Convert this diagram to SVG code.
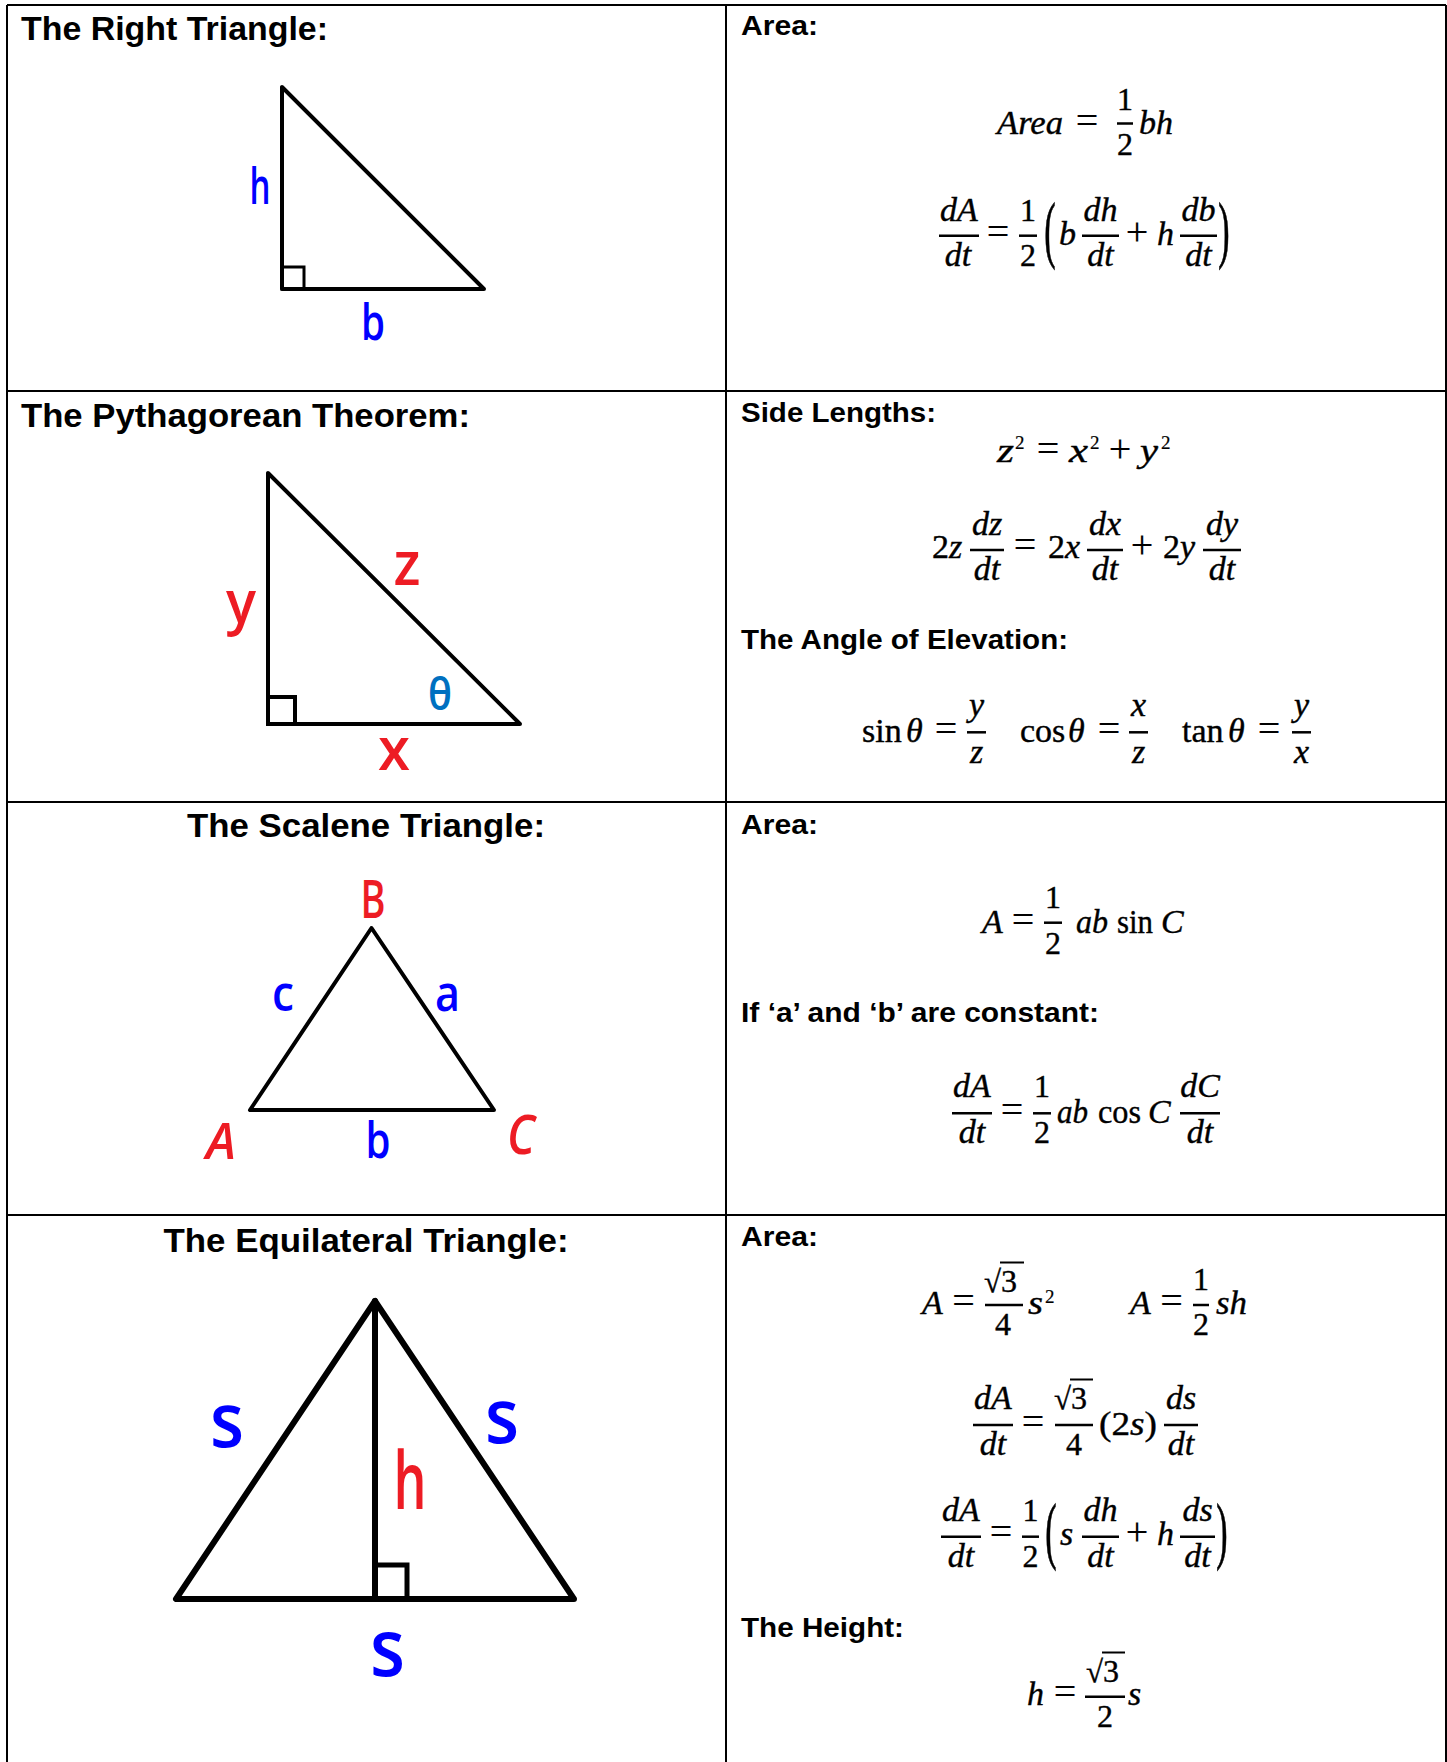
<svg xmlns="http://www.w3.org/2000/svg" width="1447" height="1762" viewBox="0 0 1447 1762">
<style>
.bg{fill:#fff}
.grid{stroke:#000;stroke-width:2;fill:none}
.tri{stroke:#000;stroke-width:4;fill:none;stroke-linejoin:round;stroke-linecap:round}
.tri6{stroke:#000;stroke-width:6;fill:none;stroke-linejoin:round;stroke-linecap:round}
.ra{stroke:#000;stroke-width:3;fill:none}
.tl{font-family:"Liberation Sans",Arial,sans-serif;font-weight:bold;font-size:33px;fill:#000}
.hd{font-family:"Liberation Sans",Arial,sans-serif;font-weight:bold;font-size:28px;fill:#000}
.lb{font-family:"Open Sans","Noto Sans",sans-serif;text-anchor:middle;font-weight:600}
.blue{fill:#0000FF}
.red{fill:#ED1C24}
.lblue{fill:#0070C0}
.m{font-family:"Liberation Serif","Times New Roman",serif;font-size:34px;fill:#000;stroke:#000;stroke-width:0.4}
.i{font-style:italic}
.n{font-size:32px}
.op{font-size:40px;stroke-width:0.2}
.rad{font-size:31px}
.sp{font-size:19px;stroke-width:0.2}
.c{text-anchor:middle}
.bar{stroke:#000;stroke-width:2.5}
.vin{stroke:#000;stroke-width:2}
</style>
<rect class="bg" x="0" y="0" width="1447" height="1762"/>

<g id="grid">
<line class="grid" x1="7" y1="5" x2="1446" y2="5"/>
<line class="grid" x1="7" y1="5" x2="7" y2="1762"/>
<line class="grid" x1="1446" y1="5" x2="1446" y2="1762"/>
<line class="grid" x1="726" y1="5" x2="726" y2="1762"/>
<line class="grid" x1="7" y1="391" x2="1446" y2="391"/>
<line class="grid" x1="7" y1="802" x2="1446" y2="802"/>
<line class="grid" x1="7" y1="1215" x2="1446" y2="1215"/>
</g>

<g id="connectors"></g>

<g id="right-triangle">
<text class="tl" x="21" y="40" textLength="307" lengthAdjust="spacingAndGlyphs">The Right Triangle:</text>
<polygon class="tri" points="282,87 282,289 484,289"/>
<rect class="ra" x="282" y="267" width="22" height="22"/>
<text class="lb blue" x="260" y="204" font-size="51" textLength="21" lengthAdjust="spacingAndGlyphs">h</text>
<text class="lb blue" x="373" y="340" font-size="50" textLength="24" lengthAdjust="spacingAndGlyphs">b</text>
</g>

<g id="right-triangle-area">
<text class="hd" x="741" y="35" textLength="77" lengthAdjust="spacingAndGlyphs">Area:</text>
<text class="m i" x="997" y="134" textLength="66" lengthAdjust="spacingAndGlyphs">Area</text>
<text class="m op c" x="1087" y="134">=</text>
<line class="bar" x1="1117" y1="123.5" x2="1133" y2="123.5"/>
<text class="m n c" x="1125" y="110">1</text>
<text class="m n c" x="1125" y="155">2</text>
<text class="m i" x="1139" y="134" textLength="34" lengthAdjust="spacingAndGlyphs">bh</text>

<line class="bar" x1="939" y1="235.7" x2="979" y2="235.7"/>
<text class="m i c" x="959" y="221">dA</text>
<text class="m i c" x="958" y="266">dt</text>
<text class="m op c" x="998" y="245">=</text>
<line class="bar" x1="1019" y1="235.7" x2="1037" y2="235.7"/>
<text class="m n c" x="1028" y="221">1</text>
<text class="m n c" x="1028" y="266">2</text>
<text class="m c" transform="translate(1050,235.7) scale(1,2.15)" y="8.5">(</text>
<text class="m i" x="1059" y="245">b</text>
<line class="bar" x1="1082" y1="235.7" x2="1119" y2="235.7"/>
<text class="m i c" x="1100.5" y="221">dh</text>
<text class="m i c" x="1100.5" y="266">dt</text>
<text class="m op c" x="1137" y="245">+</text>
<text class="m i" x="1157" y="245">h</text>
<line class="bar" x1="1180" y1="235.7" x2="1217" y2="235.7"/>
<text class="m i c" x="1198.5" y="221">db</text>
<text class="m i c" x="1198.5" y="266">dt</text>
<text class="m c" transform="translate(1224,235.7) scale(1,2.15)" y="8.5">)</text>
</g>

<g id="pythagorean">
<text class="tl" x="21" y="427" textLength="449" lengthAdjust="spacingAndGlyphs">The Pythagorean Theorem:</text>
<polygon class="tri" points="268,473 268,724 520,724"/>
<rect class="ra" x="268" y="697" width="27" height="27" style="stroke-width:4"/>
<text class="lb red" x="241" y="623" font-size="60" textLength="30" lengthAdjust="spacingAndGlyphs">y</text>
<text class="lb red" x="407" y="585" font-size="62" textLength="27" lengthAdjust="spacingAndGlyphs">z</text>
<text class="lb lblue" x="440" y="710" font-size="45" textLength="24" lengthAdjust="spacingAndGlyphs">θ</text>
<text class="lb red" x="394" y="770" font-size="60" textLength="32" lengthAdjust="spacingAndGlyphs">x</text>
</g>

<g id="pythagorean-formulas">
<text class="hd" x="741" y="422" textLength="195" lengthAdjust="spacingAndGlyphs">Side Lengths:</text>
<text class="m i" x="997" y="462" textLength="17" lengthAdjust="spacingAndGlyphs">z</text>
<text class="m sp" x="1015" y="449">2</text>
<text class="m op c" x="1048" y="462">=</text>
<text class="m i" x="1069" y="462" textLength="19" lengthAdjust="spacingAndGlyphs">x</text>
<text class="m sp" x="1090" y="449">2</text>
<text class="m op c" x="1120" y="462">+</text>
<text class="m i" x="1140" y="462" textLength="18" lengthAdjust="spacingAndGlyphs">y</text>
<text class="m sp" x="1161" y="449">2</text>

<text class="m" x="932" y="558">2<tspan class="i">z</tspan></text>
<line class="bar" x1="970" y1="550" x2="1004" y2="550"/>
<text class="m i c" x="987" y="535">dz</text>
<text class="m i c" x="987" y="580">dt</text>
<text class="m op c" x="1025" y="558">=</text>
<text class="m" x="1048" y="558">2<tspan class="i">x</tspan></text>
<line class="bar" x1="1087" y1="550" x2="1123" y2="550"/>
<text class="m i c" x="1105" y="535">dx</text>
<text class="m i c" x="1105" y="580">dt</text>
<text class="m op c" x="1142" y="558">+</text>
<text class="m" x="1163" y="558">2<tspan class="i">y</tspan></text>
<line class="bar" x1="1203" y1="550" x2="1241" y2="550"/>
<text class="m i c" x="1222" y="535">dy</text>
<text class="m i c" x="1222" y="580">dt</text>

<text class="hd" x="741" y="649" textLength="327" lengthAdjust="spacingAndGlyphs">The Angle of Elevation:</text>
<text class="m" x="862" y="742">sin</text>
<text class="m i" x="906" y="742">θ</text>
<text class="m op c" x="946" y="742">=</text>
<line class="bar" x1="967" y1="732.3" x2="986" y2="732.3"/>
<text class="m i c" x="976.5" y="716">y</text>
<text class="m i c" x="976.5" y="763">z</text>
<text class="m" x="1020" y="742">cos</text>
<text class="m i" x="1068" y="742">θ</text>
<text class="m op c" x="1109" y="742">=</text>
<line class="bar" x1="1129" y1="732.3" x2="1148" y2="732.3"/>
<text class="m i c" x="1138.5" y="716">x</text>
<text class="m i c" x="1138.5" y="763">z</text>
<text class="m" x="1182" y="742">tan</text>
<text class="m i" x="1228" y="742">θ</text>
<text class="m op c" x="1269" y="742">=</text>
<line class="bar" x1="1292" y1="732.3" x2="1311" y2="732.3"/>
<text class="m i c" x="1301.5" y="716">y</text>
<text class="m i c" x="1301.5" y="763">x</text>
</g>

<g id="scalene">
<text class="tl c" x="366" y="837" textLength="358" lengthAdjust="spacingAndGlyphs">The Scalene Triangle:</text>
<polygon class="tri" points="371.5,928 250,1110 494,1110"/>
<text class="lb red" x="373" y="918" font-size="53" textLength="25" lengthAdjust="spacingAndGlyphs">B</text>
<text class="lb blue" x="283" y="1011" font-size="49" textLength="22" lengthAdjust="spacingAndGlyphs">c</text>
<text class="lb blue" x="447.5" y="1011" font-size="50" textLength="25" lengthAdjust="spacingAndGlyphs">a</text>
<text class="lb red" x="221" y="1159" font-size="50" font-style="italic" textLength="30" lengthAdjust="spacingAndGlyphs">A</text>
<text class="lb blue" x="378" y="1158" font-size="50" textLength="25" lengthAdjust="spacingAndGlyphs">b</text>
<text class="lb red" x="521" y="1154" font-size="54" font-style="italic" textLength="28" lengthAdjust="spacingAndGlyphs">C</text>
</g>

<g id="scalene-formulas">
<text class="hd" x="741" y="834" textLength="77" lengthAdjust="spacingAndGlyphs">Area:</text>
<text class="m i" x="982" y="933">A</text>
<text class="m op c" x="1023" y="933">=</text>
<line class="bar" x1="1044" y1="922.7" x2="1062" y2="922.7"/>
<text class="m n c" x="1053" y="908">1</text>
<text class="m n c" x="1053" y="954">2</text>
<text class="m i" x="1076" y="933" textLength="32" lengthAdjust="spacingAndGlyphs">ab</text>
<text class="m" x="1117" y="933" textLength="36" lengthAdjust="spacingAndGlyphs">sin</text>
<text class="m i" x="1161" y="933">C</text>

<text class="hd" x="741" y="1022" textLength="358" lengthAdjust="spacingAndGlyphs">If ‘a’ and ‘b’ are constant:</text>
<line class="bar" x1="952" y1="1113.3" x2="992" y2="1113.3"/>
<text class="m i c" x="972" y="1097">dA</text>
<text class="m i c" x="972" y="1143">dt</text>
<text class="m op c" x="1012" y="1123">=</text>
<line class="bar" x1="1033" y1="1113.3" x2="1051" y2="1113.3"/>
<text class="m n c" x="1042" y="1097">1</text>
<text class="m n c" x="1042" y="1143">2</text>
<text class="m i" x="1057" y="1123" textLength="31" lengthAdjust="spacingAndGlyphs">ab</text>
<text class="m" x="1098" y="1123" textLength="43" lengthAdjust="spacingAndGlyphs">cos</text>
<text class="m i" x="1148" y="1123">C</text>
<line class="bar" x1="1180" y1="1113.3" x2="1220" y2="1113.3"/>
<text class="m i c" x="1200" y="1097">dC</text>
<text class="m i c" x="1200" y="1143">dt</text>
</g>

<g id="equilateral">
<text class="tl c" x="366" y="1252" textLength="405" lengthAdjust="spacingAndGlyphs">The Equilateral Triangle:</text>
<polygon class="tri6" points="375,1301 176,1599 574,1599"/>
<line class="tri6" x1="375" y1="1301" x2="375" y2="1599"/>
<rect class="ra" x="375" y="1565" width="32" height="34" style="stroke-width:5"/>
<text class="lb blue" x="227" y="1447" font-size="76" font-weight="bold" textLength="34" lengthAdjust="spacingAndGlyphs">s</text>
<text class="lb blue" x="502" y="1443" font-size="76" font-weight="bold" textLength="34" lengthAdjust="spacingAndGlyphs">s</text>
<text class="lb red" x="410" y="1509" font-size="80" textLength="33" lengthAdjust="spacingAndGlyphs">h</text>
<text class="lb blue" x="387.5" y="1676" font-size="80" font-weight="bold" textLength="35" lengthAdjust="spacingAndGlyphs">s</text>
</g>

<g id="equilateral-formulas">
<text class="hd" x="741" y="1246" textLength="77" lengthAdjust="spacingAndGlyphs">Area:</text>
<text class="m i" x="922" y="1314">A</text>
<text class="m op c" x="963.5" y="1314">=</text>
<line class="bar" x1="985" y1="1305" x2="1023" y2="1305"/>
<text class="m rad" x="984" y="1292">√</text>
<line class="vin" x1="1000" y1="1262.5" x2="1024" y2="1262.5"/>
<text class="m n" x="1001" y="1292">3</text>
<text class="m n c" x="1003" y="1335">4</text>
<text class="m i" x="1028" y="1314" textLength="15" lengthAdjust="spacingAndGlyphs">s</text>
<text class="m sp" x="1045" y="1303">2</text>
<text class="m i" x="1130" y="1314">A</text>
<text class="m op c" x="1171.5" y="1314">=</text>
<line class="bar" x1="1193" y1="1305" x2="1209" y2="1305"/>
<text class="m n c" x="1201" y="1290">1</text>
<text class="m n c" x="1201" y="1335">2</text>
<text class="m i" x="1216" y="1314" textLength="31" lengthAdjust="spacingAndGlyphs">sh</text>

<line class="bar" x1="973" y1="1425" x2="1013" y2="1425"/>
<text class="m i c" x="993" y="1409">dA</text>
<text class="m i c" x="993" y="1455">dt</text>
<text class="m op c" x="1033" y="1435">=</text>
<line class="bar" x1="1055" y1="1425" x2="1093" y2="1425"/>
<text class="m rad" x="1054" y="1409">√</text>
<line class="vin" x1="1070" y1="1379.5" x2="1093" y2="1379.5"/>
<text class="m n" x="1071" y="1409">3</text>
<text class="m n c" x="1074" y="1455">4</text>
<text class="m" x="1099" y="1435" textLength="58" lengthAdjust="spacingAndGlyphs">(2<tspan class="i">s</tspan>)</text>
<line class="bar" x1="1164" y1="1425" x2="1198" y2="1425"/>
<text class="m i c" x="1181" y="1409">ds</text>
<text class="m i c" x="1181" y="1455">dt</text>

<line class="bar" x1="941" y1="1536.7" x2="981" y2="1536.7"/>
<text class="m i c" x="961" y="1521">dA</text>
<text class="m i c" x="961" y="1567">dt</text>
<text class="m op c" x="1001" y="1545">=</text>
<line class="bar" x1="1022" y1="1536.7" x2="1039" y2="1536.7"/>
<text class="m n c" x="1030.5" y="1521">1</text>
<text class="m n c" x="1030.5" y="1567">2</text>
<text class="m c" transform="translate(1051,1537) scale(1,2.15)" y="8.5">(</text>
<text class="m i" x="1060" y="1545">s</text>
<line class="bar" x1="1082" y1="1536.7" x2="1119" y2="1536.7"/>
<text class="m i c" x="1100.5" y="1521">dh</text>
<text class="m i c" x="1100.5" y="1567">dt</text>
<text class="m op c" x="1137" y="1545">+</text>
<text class="m i" x="1157" y="1545">h</text>
<line class="bar" x1="1180" y1="1536.7" x2="1215" y2="1536.7"/>
<text class="m i c" x="1197.5" y="1521">ds</text>
<text class="m i c" x="1197.5" y="1567">dt</text>
<text class="m c" transform="translate(1222,1537) scale(1,2.15)" y="8.5">)</text>

<text class="hd" x="741" y="1637" textLength="163" lengthAdjust="spacingAndGlyphs">The Height:</text>
<text class="m i" x="1027" y="1705">h</text>
<text class="m op c" x="1065" y="1705">=</text>
<line class="bar" x1="1085" y1="1696.7" x2="1125" y2="1696.7"/>
<text class="m rad" x="1086" y="1682">√</text>
<line class="vin" x1="1102" y1="1652.5" x2="1125" y2="1652.5"/>
<text class="m n" x="1103" y="1682">3</text>
<text class="m n c" x="1105" y="1727">2</text>
<text class="m i" x="1128" y="1705">s</text>
</g>
</svg>
